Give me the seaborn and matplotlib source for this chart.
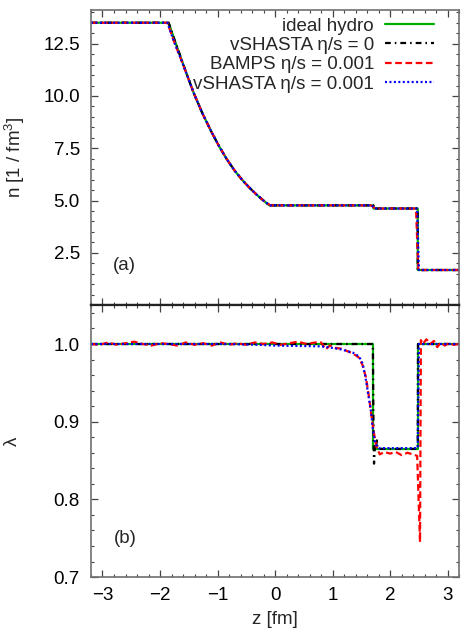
import numpy as np
import pandas as pd
import matplotlib
matplotlib.use("Agg")
import matplotlib.pyplot as plt
import seaborn as sns
from matplotlib.ticker import MultipleLocator

# top panel: density n(z)
z_n_ideal = [-3.2, -1.85, -1.75, -1.65, -1.55, -1.42, -1.26, -1.10, -0.97, -0.84, -0.70,
             -0.56, -0.44, -0.32, -0.18, -0.10, 1.71, 1.71, 2.48, 2.48, 3.2]
n_ideal = [13.5, 13.5, 12.7, 11.93, 11.15, 10.18, 9.15, 8.25, 7.58, 6.98, 6.42,
           5.95, 5.6, 5.28, 4.95, 4.77, 4.77, 4.62, 4.62, 1.68, 1.68]
z_n_visc = [-3.2, -1.87, -1.77, -1.66, -1.55, -1.42, -1.26, -1.10, -0.97, -0.84, -0.70,
            -0.56, -0.44, -0.32, -0.18, -0.08, 1.68, 1.74, 2.47, 2.50, 3.2]
n_visc = [13.5, 13.5, 12.7, 11.93, 11.15, 10.18, 9.15, 8.25, 7.58, 6.98, 6.42,
          5.95, 5.6, 5.28, 4.95, 4.77, 4.77, 4.62, 4.62, 1.68, 1.68]
z_n_bamps = [-3.2, -1.87, -1.77, -1.66, -1.55, -1.42, -1.26, -1.10, -0.97, -0.84, -0.70,
             -0.56, -0.44, -0.32, -0.18, -0.08, 1.67, 1.74, 2.45, 2.49, 3.2]

# bottom panel: lambda(z)
z_lam_ideal = [-3.2, 1.71, 1.71, 2.48, 2.48, 3.2]
lam_ideal = [1.0, 1.0, 0.865, 0.865, 1.0, 1.0]

z_lam_vs0 = [-3.2, 1.70, 1.71, 1.72, 1.74, 1.755, 1.77, 1.78, 1.80, 2.48, 2.485, 3.2]
lam_vs0 = [1.0, 1.0, 0.9, 0.846, 0.872, 0.866, 0.876, 0.866, 0.865, 0.865, 1.0, 1.0]

z_lam_vs = [-3.2, -0.8, -0.3, 0.0, 0.4, 0.8, 1.0, 1.15, 1.25, 1.35, 1.46, 1.52, 1.57,
            1.62, 1.67, 1.70, 1.74, 1.80, 2.48, 2.50, 3.2]
lam_vs = [1.0, 1.0, 0.999, 0.998, 0.9975, 0.997, 0.995, 0.993, 0.991, 0.989, 0.984, 0.975, 0.958,
          0.935, 0.912, 0.89, 0.872, 0.866, 0.866, 1.0, 1.0]

z_lam_bamps = [-3.2, -3.05, -2.9, -2.75, -2.6, -2.45, -2.3, -2.15, -2.0, -1.85, -1.7, -1.55,
               -1.4, -1.25, -1.1, -0.95, -0.8, -0.65, -0.5, -0.35, -0.2, -0.05, 0.1, 0.25,
               0.4, 0.55, 0.7, 0.8, 0.88, 0.95, 1.05, 1.15, 1.25, 1.35, 1.45, 1.52, 1.58,
               1.63, 1.68, 1.72, 1.76, 1.82, 1.9, 2.0, 2.1, 2.2, 2.3, 2.4, 2.47, 2.52, 2.535,
               2.57, 2.63, 2.7, 2.76, 2.82, 2.88, 2.95, 3.02, 3.1, 3.2]
lam_bamps = [1.0, 0.999, 1.002, 0.999, 1.001, 1.003, 1.0, 0.998, 1.001, 1.0, 0.998, 1.002,
             0.999, 1.001, 0.998, 1.002, 0.999, 1.001, 0.999, 1.002, 1.0, 1.002, 0.999, 1.001,
             1.003, 1.0, 1.002, 1.002, 0.993, 0.998, 0.995, 0.994, 0.991, 0.988, 0.983, 0.973, 0.957,
             0.933, 0.905, 0.885, 0.868, 0.858, 0.861, 0.859, 0.861, 0.857, 0.86, 0.858, 0.856, 0.745, 1.005,
             1.0, 1.006, 1.0, 1.004, 0.996, 1.002, 0.998, 1.001, 0.999, 1.0]

labels = ["ideal hydro", "vSHASTA η/s = 0", "BAMPS η/s = 0.001", "vSHASTA η/s = 0.001"]
colors = ["#00b000", "black", "#ff0000", "#0000ff"]
styles = ["-", (0, (2.6, 1.8, 0.7, 1.8)), (0, (3.0, 1.6)), (0, (0.9, 1.1))]

sns.set_theme(style="ticks")
plt.rcParams["font.family"] = ["Liberation Sans", "DejaVu Sans"]
plt.rcParams["mathtext.fontset"] = "custom"
plt.rcParams["mathtext.rm"] = "Liberation Sans"
plt.rcParams["font.size"] = 13.5

fig, (ax1, ax2) = plt.subplots(2, 1, figsize=(4.69, 6.37), dpi=100, sharex=True,
                               gridspec_kw={"height_ratios": [295, 272], "hspace": 0})
fig.subplots_adjust(left=0.194, right=0.979, bottom=0.094, top=0.984)

top_data = [(z_n_ideal, n_ideal), (z_n_ideal, n_ideal), (z_n_bamps, n_visc), (z_n_visc, n_visc)]
bot_data = [(z_lam_ideal, lam_ideal), (z_lam_vs0, lam_vs0), (z_lam_bamps, lam_bamps), (z_lam_vs, lam_vs)]

for i in range(4):
    x, y = top_data[i]
    sns.lineplot(x=x, y=y, ax=ax1, sort=False, estimator=None, color=colors[i],
                 linestyle=styles[i], lw=1.6, label=labels[i])
    x, y = bot_data[i]
    sns.lineplot(x=x, y=y, ax=ax2, sort=False, estimator=None, color=colors[i],
                 linestyle=styles[i], lw=1.6, legend=False)

ax1.set_xlim(-3.2, 3.2)
ax1.set_ylim(0, 14.1)
ax2.set_ylim(0.7, 1.05)

ax1.yaxis.set_major_locator(MultipleLocator(2.5))
ax1.yaxis.set_minor_locator(MultipleLocator(0.5))
ax2.yaxis.set_major_locator(MultipleLocator(0.1))
ax2.yaxis.set_minor_locator(MultipleLocator(0.02))
ax2.xaxis.set_major_locator(MultipleLocator(1))
ax2.xaxis.set_minor_locator(MultipleLocator(0.2))
ax1.set_yticks([2.5, 5.0, 7.5, 10.0, 12.5])
ax1.set_yticklabels(["2.5", "5.0", "7.5", "10.0", "12.5"])

for ax in (ax1, ax2):
    ax.tick_params(which="both", direction="in", top=True, right=True, colors="#444444",
                   labelcolor="black", labelsize=13.5)
    ax.tick_params(which="major", length=5, width=0.9)
    ax.tick_params(which="minor", length=2.5, width=0.8)
    ax.tick_params(axis="y", pad=8)
    ax.tick_params(axis="x", pad=7)
    for s in ax.spines.values():
        s.set_color("#707070")
        s.set_linewidth(1.2)
ax1.spines["bottom"].set_color("#222222")
ax1.spines["bottom"].set_linewidth(1.6)
ax2.spines["top"].set_color("#222222")
ax2.spines["top"].set_linewidth(1.6)
ax1.tick_params(axis="x", labelbottom=False)

ax1.set_ylabel(r"n [1 / fm$^\mathregular{3}$]", fontsize=13.5)
ax2.set_ylabel("λ", fontsize=13.5)
ax2.set_xlabel("z [fm]", fontsize=13.5, labelpad=5)
ax1.set_xlabel("")
ax1.yaxis.set_label_coords(-0.175, 0.5)
ax2.yaxis.set_label_coords(-0.19, 0.5)

ax1.text(0.092, 0.135, "(a)", transform=ax1.transAxes, ha="center", va="center", fontsize=13.5)
ax2.text(0.092, 0.143, "(b)", transform=ax2.transAxes, ha="center", va="center", fontsize=13.5)

leg = ax1.legend(loc="upper right", bbox_to_anchor=(0.952, 1.001), frameon=False,
                 markerfirst=False, handlelength=2.6, handletextpad=0.6, labelspacing=0.12,
                 borderaxespad=0.0, fontsize=13.5)

fig.savefig("out.png", dpi=100)
